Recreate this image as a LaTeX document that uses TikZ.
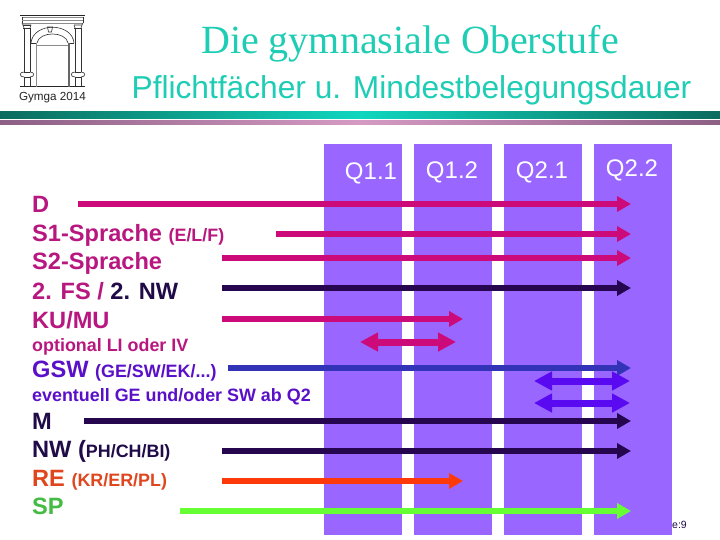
\documentclass[tikz,border=0pt]{standalone}
\usepackage{fontspec}
\setmainfont{Liberation Sans}
\newfontfamily\serifface{Liberation Serif}
\usetikzlibrary{arrows.meta}
\definecolor{cmag}{HTML}{CC0A7A}
\definecolor{cdark}{HTML}{26064F}
\definecolor{cpurple}{HTML}{5A0AF0}
\definecolor{cblue}{HTML}{3333B8}
\definecolor{cred}{HTML}{FF3A0A}
\definecolor{cgreen}{HTML}{66FF33}
\definecolor{ccol}{HTML}{9966FF}
\definecolor{cteal}{HTML}{1FCDB5}
\definecolor{tealdark}{HTML}{0B6B5E}
\definecolor{tealbright}{HTML}{0FD6BE}
\definecolor{maudark}{HTML}{8C5F85}
\definecolor{maulight}{HTML}{D49AC4}
\definecolor{tmag}{HTML}{B8177F}
\definecolor{tpurple}{HTML}{5A10C8}
\definecolor{tdark}{HTML}{200A48}
\definecolor{tred}{HTML}{E0461E}
\definecolor{tgreen}{HTML}{44BB44}
\newcommand{\smallb}{\fontsize{17.9}{20}\selectfont\bfseries}
\tikzset{
 x=1pt,y=-1pt,
 colbox/.style={fill=ccol,draw=none,minimum width=78pt,minimum height=391pt,inner sep=0pt,anchor=north west},
 lab/.style={anchor=base west,inner sep=0pt,font=\fontsize{23.6}{26}\selectfont\bfseries},
 qlab/.style={anchor=base,inner sep=0pt,text=white,font=\fontsize{24}{28}\selectfont},
 small/.style={font=\smallb},
 ar/.style={line width=5.8pt,-{Triangle[length=14pt,width=15pt]}},
 dar/.style={line width=7pt,{Triangle[length=18pt,width=18pt]}-{Triangle[length=18pt,width=18pt]}},
 pt/.style={inner sep=0pt,minimum size=0pt},
 lg/.style={draw=black!80,line width=0.6pt,fill=none},
 lgg/.style={draw=black!45,line width=0.6pt,fill=none},
}
\begin{document}
\begin{tikzpicture}
\useasboundingbox (0,0) rectangle (720,540);
\fill[white] (0,0) rectangle (720,540);
% logo
\draw[line width=1pt,black!85] (20,15.5)--(85,15.5);
\draw[lgg] (22,17)--(83,17) (22,23)--(83,23);
\draw[lg] (22,17)--(22,23) (83,17)--(83,23);
\draw[lgg] (22,20)--(83,20);
\draw[lg] (22,23)--(23,25)--(31,25) (83,23)--(82,25)--(74,25);
\draw[lg] (23,25)--(31,25);
\draw[lg] (23,28)--(31,28) (74,28)--(82,28);
\draw[lg] (23,25)--(24,28) (31,25)--(30,28) (74,25)--(75,28) (82,25)--(81,28);
\draw[lg] (24,28)--(24,72) (30,28)--(30,72) (75,28)--(75,72) (81,28)--(81,72);
\draw[lg] (24,72) .. controls (19,72) and (19,77) .. (24,77) (30,72) .. controls (35,72) and (35,77) .. (30,77);
\draw[lg] (75,72) .. controls (70,72) and (70,77) .. (75,77) (81,72) .. controls (86,72) and (86,77) .. (81,77);
\draw[lg] (24,72)--(30,72) (75,72)--(81,72) (24,77)--(30,77) (75,77)--(81,77);
\draw[lg] (24,77)--(24,86) (30,77)--(30,86) (75,77)--(75,86) (81,77)--(81,86);
\draw[line width=1pt,black!85] (20,87)--(85,87);
\draw[lg] (31,43) .. controls (33,22) and (72,22) .. (74,43);
\draw[lg] (37,43) .. controls (39,31) and (66,31) .. (68,43);
\draw[lg] (31,43)--(37,43) (68,43)--(74,43);
\draw[lgg] (37,45)--(68,45);
\draw[lgg] (36.5,43)--(36.5,87);
\draw[line width=1.2pt,black!60] (69,43)--(69,87);
\draw[lg] (47.5,27)--(52.5,27)--(51.5,32)--(48.5,32)--cycle;
\node[pt,anchor=base,text=black!85,font=\fontsize{11.7}{13}\selectfont] (logotxt) at (52.5,100.5) {Gymga 2014};
% titles
\node[pt,anchor=base,text=cteal,font=\serifface\fontsize{40}{44}\selectfont] (title) at (410,54) {Die gymnasiale Oberstufe};
\node[pt,anchor=base,text=cteal,font=\fontsize{31.7}{36}\selectfont] (sub) at (411.5,98.5) {Pflichtfächer u. Mindestbelegungsdauer};
% rules
\shade[left color=tealdark,right color=tealbright] (0,112) rectangle (360,119);
\shade[left color=tealbright,right color=tealdark] (360,112) rectangle (720,119);
\shade[left color=maudark,right color=maulight] (0,121) rectangle (360,125);
\shade[left color=maulight,right color=maudark] (360,121) rectangle (720,125);
% columns
\node[colbox] (c1) at (324,144) {};
\node[colbox] (c2) at (414,144) {};
\node[colbox] (c3) at (504,144) {};
\node[colbox] (c4) at (594,144) {};
\node[qlab] (q1) at (371,180) {Q1.1};
\node[qlab] (q2) at (452,179) {Q1.2};
\node[qlab] (q3) at (542,179) {Q2.1};
\node[qlab] (q4) at (632,177) {Q2.2};
% labels
\node[lab,text=tmag] (tD) at (32,212) {D};
\node[lab,text=tmag] (tS1) at (32,241) {S1-Sprache {\smallb(E/L/F)}};
\node[lab,text=tmag] (tS2) at (32,269) {S2-Sprache};
\node[lab,text=tmag] (tFS) at (32,299) {2. FS / \textcolor{tdark}{2. NW}};
\node[lab,text=tmag] (tKU) at (32,328) {KU/MU};
\node[lab,small,text=tmag] (tLI) at (32,351) {optional LI oder IV};
\node[lab,text=tpurple] (tG) at (32,377) {GSW {\smallb(GE/SW/EK/...)}};
\node[lab,small,text=tpurple] (tEv) at (32,401) {eventuell GE und/oder SW ab Q2};
\node[lab,text=tdark] (tM) at (32,429) {M};
\node[lab,text=tdark] (tNW) at (32,457) {NW ({\smallb PH/CH/BI)}};
\node[lab,text=tred] (tRE) at (32,486) {RE {\smallb(KR/ER/PL)}};
\node[lab,text=tgreen] (tSP) at (32,514) {SP};
\node[pt,anchor=base west,text=tdark,font=\fontsize{10.5}{12}\selectfont] (pg) at (672,528) {e:9};
% arrow ends
\foreach \n/\x/\y in {aD/78/204,bD/631/204,aS/276/234,bS/631/234,aZ/222/258,bZ/631/258,aF/222/288,bF/631/288,aK/222/319,bK/463/319,aL/360/342,bL/456/342,aG/228/368,bG/631/368,aA/534/381,bA/630/381,aB/534/403,bB/630/403,aM/84/421,bM/631/421,aN/222/451,bN/631/451,aR/222/481,bR/463/481,aP/180/511,bP/631/511}
 \coordinate (\n) at (\x,\y);
\draw[ar,cmag] (aD)--(bD);
\draw[ar,cmag] (aS)--(bS);
\draw[ar,cmag] (aZ)--(bZ);
\draw[ar,cdark] (aF)--(bF);
\draw[ar,cmag] (aK)--(bK);
\draw[dar,cmag] (aL)--(bL);
\draw[ar,cblue] (aG)--(bG);
\draw[dar,cpurple] (aA)--(bA);
\draw[dar,cpurple] (aB)--(bB);
\draw[ar,cdark] (aM)--(bM);
\draw[ar,cdark] (aN)--(bN);
\draw[ar,cred] (aR)--(bR);
\draw[ar,cgreen] (aP)--(bP);
\end{tikzpicture}
\end{document}
